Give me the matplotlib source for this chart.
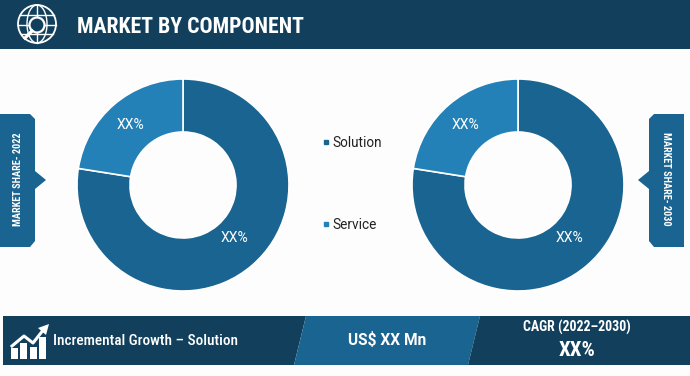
import matplotlib
matplotlib.use("Agg")
import matplotlib.pyplot as plt
from matplotlib.patches import Polygon, Circle, Ellipse, Rectangle

plt.rcParams['font.family'] = ['Roboto Condensed', 'Archivo Narrow', 'Roboto', 'DejaVu Sans']
PLAIN = ['Roboto', 'DejaVu Sans']

# chart values
categories = ["Solution", "Service"]
shares_2022 = [77.5, 22.5]
shares_2030 = [77.5, 22.5]
slice_labels = ["XX%", "XX%"]

W, H = 690, 376
DARK = "#12405c"
MID = "#1a6491"
LIGHT = "#2481b8"
BG = "#fdfdfd"


def donut(cx, cy, r, values):
    ax = fig.add_axes([(cx - r) / W, 1 - (cy + r) / H, 2 * r / W, 2 * r / H])
    ax.pie(values, colors=[MID, LIGHT], startangle=90, counterclock=False,
           radius=1, wedgeprops=dict(width=0.5, edgecolor="white", linewidth=1.2))
    ax.set_xlim(-1, 1)
    ax.set_ylim(-1, 1)
    ax.text(0.49, -0.50, slice_labels[0], color="white", fontsize=10, family=PLAIN,
            ha="center", va="center")
    ax.text(-0.50, 0.57, slice_labels[1], color="white", fontsize=10, family=PLAIN,
            ha="center", va="center")
    return ax


def side_tab(points, label, x, rotation):
    bg.add_patch(Polygon(points, closed=True, fc=MID, ec="none"))
    bg.text(x, 179, label, color="white", fontsize=7.4, fontweight="bold",
            rotation=rotation, ha="center", va="center")


fig = plt.figure(figsize=(W / 100, H / 100), dpi=100, facecolor=BG)
bg = fig.add_axes([0, 0, 1, 1])
bg.set_xlim(0, W)
bg.set_ylim(H, 0)
bg.axis("off")

# header
bg.add_patch(Rectangle((0, 0), W, 49, fc=DARK, ec="none"))
bg.text(77, 27, "MARKET BY COMPONENT", color="white", fontsize=15.7, fontweight="bold",
        ha="left", va="center")

# globe + magnifier icon
bg.add_patch(Circle((37, 24), 19, fc="none", ec="white", lw=1.3))
bg.add_patch(Ellipse((37, 24), 20, 38, fc="none", ec="white", lw=1.0))
bg.plot([37, 37], [5, 43], color="white", lw=1.0)
bg.plot([20, 54], [15, 15], color="white", lw=1.0)
bg.plot([19, 56], [25, 25], color="white", lw=1.0)
bg.plot([21, 53], [34, 34], color="white", lw=1.0)
bg.add_patch(Circle((37, 25), 7.5, fc=DARK, ec="white", lw=1.6, zorder=3))
bg.plot([32, 25], [31, 38], color="white", lw=2.4, zorder=3)

# side tabs
side_tab([(0, 114), (30, 114), (35, 119), (35, 171), (46, 180), (35, 189), (35, 241),
          (30, 247), (0, 247)], "MARKET SHARE- 2022", 18, 90)
side_tab([(684, 114), (654, 114), (649, 119), (649, 171), (638, 180), (649, 189), (649, 241),
          (654, 247), (684, 247)], "MARKET SHARE- 2030", 666, 270)

# donuts
donut(183, 185, 106, shares_2022)
donut(518, 185, 106, shares_2030)

# legend
bg.plot([326], [142], marker="s", ms=3.5, color=MID)
bg.text(332, 143, categories[0], color="#222222", fontsize=9.8, family=PLAIN, va="center")
bg.plot([326], [224], marker="s", ms=3.5, color=LIGHT)
bg.text(332, 225, categories[1], color="#222222", fontsize=9.8, family=PLAIN, va="center")

# bottom band
bg.add_patch(Polygon([(3, 316), (306, 316), (294, 365), (3, 365)], fc=DARK, ec="none"))
bg.add_patch(Polygon([(306, 316), (480, 316), (468, 365), (294, 365)], fc=MID, ec="none"))
bg.add_patch(Polygon([(480, 316), (690, 316), (690, 365), (468, 365)], fc=DARK, ec="none"))

# growth icon
for x0, top in zip([11, 20, 30, 39], [348, 343, 347, 337]):
    bg.add_patch(Rectangle((x0, top), 7, 359 - top, fc="white", ec="none"))
bg.plot([12, 24, 33, 44], [346, 336, 343, 329], color="white", lw=2.2)
bg.add_patch(Polygon([(49, 324), (38, 328), (46, 335)], fc="white", ec="none"))

bg.text(53, 341, "Incremental Growth \u2013 Solution", color="white", fontsize=11,
        fontweight=500, va="center")
bg.text(387, 340, "US$ XX Mn", color="white", fontsize=11.2, fontweight="bold",
        family=PLAIN, ha="center", va="center")
bg.text(577, 327, "CAGR (2022\u20132030)", color="white", fontsize=10, fontweight="bold",
        ha="center", va="center")
bg.text(577, 350, "XX%", color="white", fontsize=15, fontweight="bold",
        ha="center", va="center")

fig.savefig("out.png", dpi=100, facecolor=BG)
